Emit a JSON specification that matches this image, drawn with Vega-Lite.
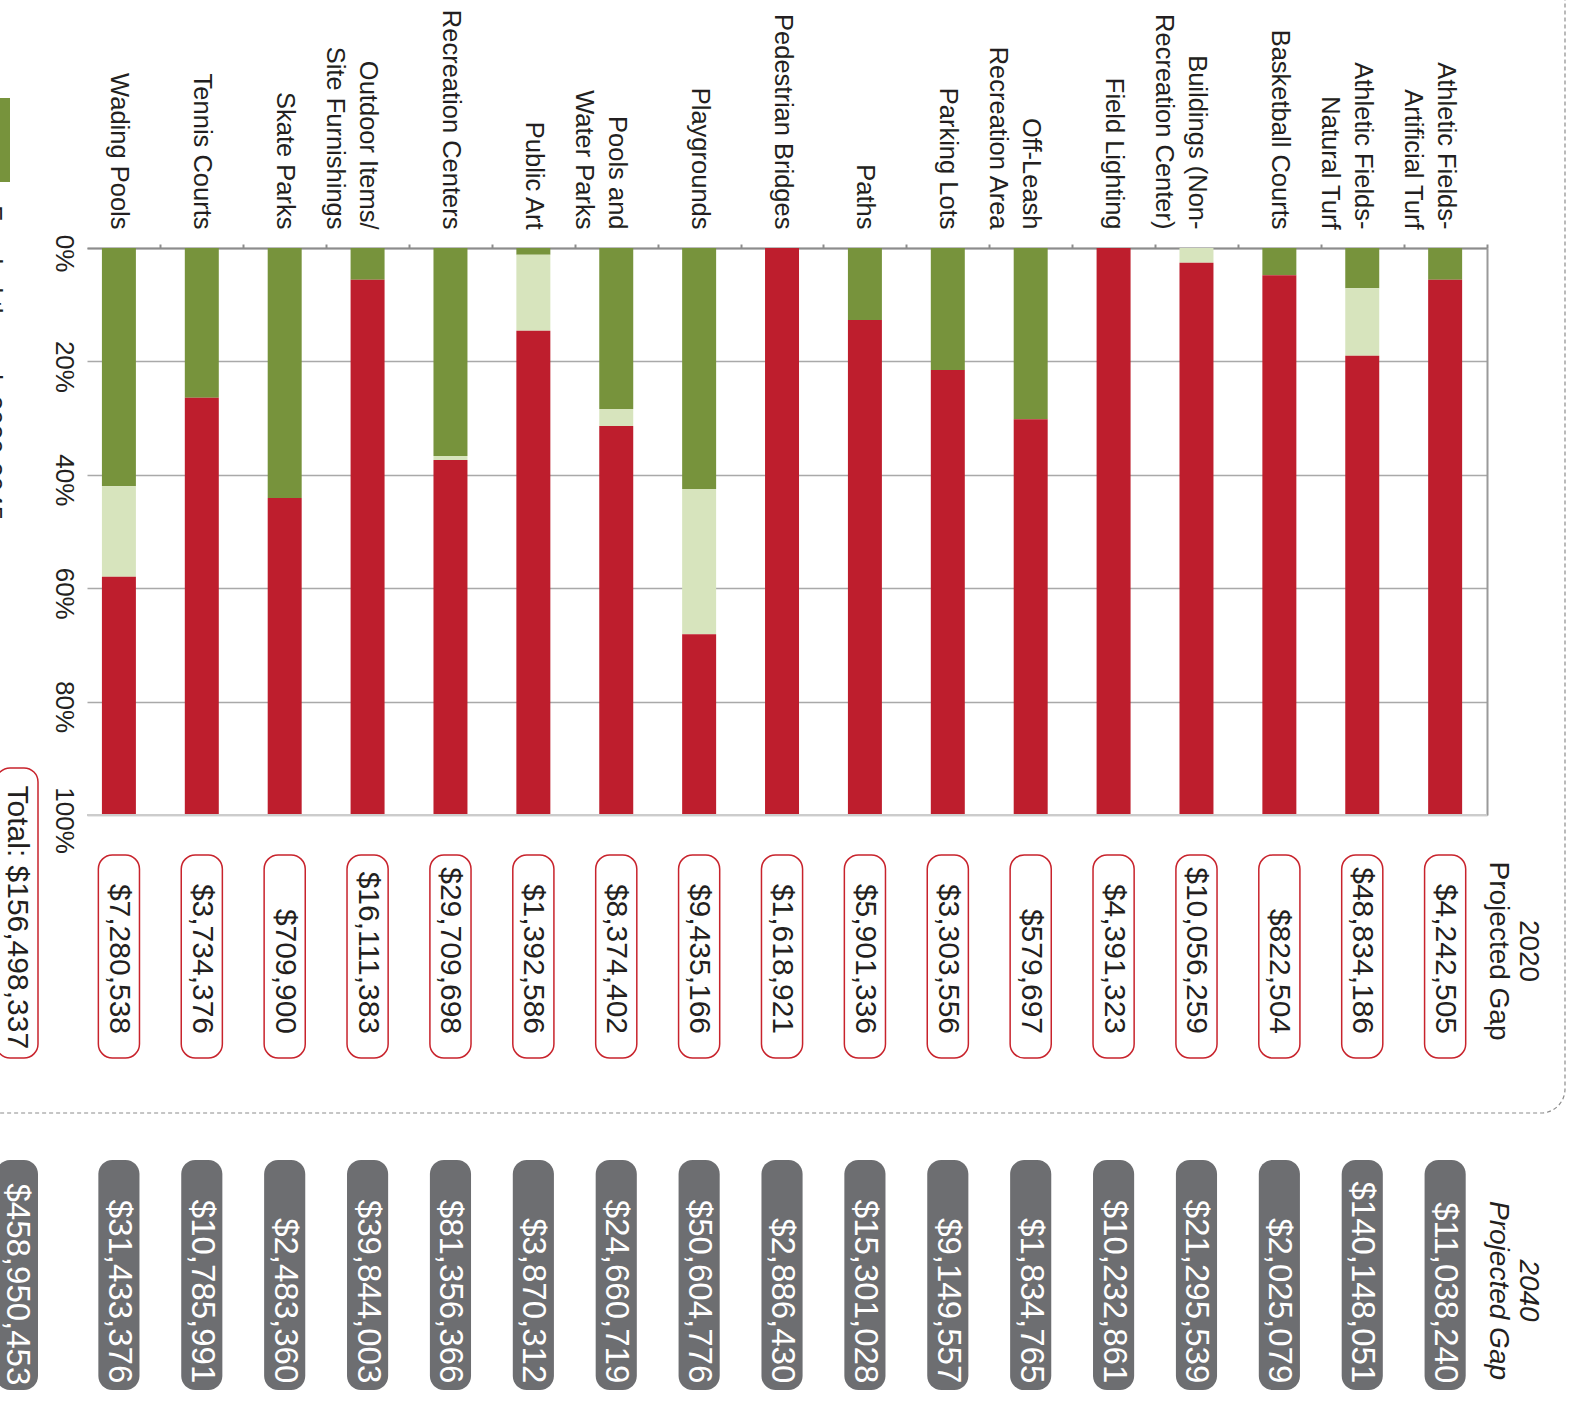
{
  "$schema": "https://vega.github.io/schema/vega-lite/v6.json",
  "width": 1400,
  "height": 567,
  "autosize": {"type": "none"},
  "padding": {"left": 87, "top": 248, "right": 83, "bottom": 591},
  "background": "white",
  "config": {"view": {"stroke": null}, "font": "Liberation Sans"},
  "datasets": {
    "shares": [
      {"cat": "Wading Pools", "status": "Funded", "pct": 42.0},
      {"cat": "Wading Pools", "status": "Partially funded", "pct": 16.0},
      {"cat": "Wading Pools", "status": "Unfunded", "pct": 42.0},
      {"cat": "Tennis Courts", "status": "Funded", "pct": 26.4},
      {"cat": "Tennis Courts", "status": "Unfunded", "pct": 73.6},
      {"cat": "Skate Parks", "status": "Funded", "pct": 44.1},
      {"cat": "Skate Parks", "status": "Unfunded", "pct": 55.9},
      {"cat": "Outdoor Items/|Site Furnishings", "status": "Funded", "pct": 5.6},
      {"cat": "Outdoor Items/|Site Furnishings", "status": "Unfunded", "pct": 94.4},
      {"cat": "Recreation Centers", "status": "Funded", "pct": 36.7},
      {"cat": "Recreation Centers", "status": "Partially funded", "pct": 0.7},
      {"cat": "Recreation Centers", "status": "Unfunded", "pct": 62.6},
      {"cat": "Public Art", "status": "Funded", "pct": 1.2},
      {"cat": "Public Art", "status": "Partially funded", "pct": 13.4},
      {"cat": "Public Art", "status": "Unfunded", "pct": 85.4},
      {"cat": "Pools and|Water Parks", "status": "Funded", "pct": 28.4},
      {"cat": "Pools and|Water Parks", "status": "Partially funded", "pct": 3.0},
      {"cat": "Pools and|Water Parks", "status": "Unfunded", "pct": 68.6},
      {"cat": "Playgrounds", "status": "Funded", "pct": 42.5},
      {"cat": "Playgrounds", "status": "Partially funded", "pct": 25.6},
      {"cat": "Playgrounds", "status": "Unfunded", "pct": 31.9},
      {"cat": "Pedestrian Bridges", "status": "Unfunded", "pct": 100},
      {"cat": "Paths", "status": "Funded", "pct": 12.7},
      {"cat": "Paths", "status": "Unfunded", "pct": 87.3},
      {"cat": "Parking Lots", "status": "Funded", "pct": 21.5},
      {"cat": "Parking Lots", "status": "Unfunded", "pct": 78.5},
      {"cat": "Off-Leash|Recreation Area", "status": "Funded", "pct": 30.2},
      {"cat": "Off-Leash|Recreation Area", "status": "Unfunded", "pct": 69.8},
      {"cat": "Field Lighting", "status": "Unfunded", "pct": 100},
      {"cat": "Buildings (Non-|Recreation Center)", "status": "Partially funded", "pct": 2.6},
      {"cat": "Buildings (Non-|Recreation Center)", "status": "Unfunded", "pct": 97.4},
      {"cat": "Basketball Courts", "status": "Funded", "pct": 4.8},
      {"cat": "Basketball Courts", "status": "Unfunded", "pct": 95.2},
      {"cat": "Athletic Fields-|Natural Turf", "status": "Funded", "pct": 7.1},
      {"cat": "Athletic Fields-|Natural Turf", "status": "Partially funded", "pct": 11.9},
      {"cat": "Athletic Fields-|Natural Turf", "status": "Unfunded", "pct": 81.0},
      {"cat": "Athletic Fields-|Artificial Turf", "status": "Funded", "pct": 5.6},
      {"cat": "Athletic Fields-|Artificial Turf", "status": "Unfunded", "pct": 94.4}
    ],
    "gaps": [
      {"cat": "Wading Pools", "g2020": 7280538, "g2040": 31433376},
      {"cat": "Tennis Courts", "g2020": 3734376, "g2040": 10785991},
      {"cat": "Skate Parks", "g2020": 709900, "g2040": 2483360},
      {"cat": "Outdoor Items/|Site Furnishings", "g2020": 16111383, "g2040": 39844003},
      {"cat": "Recreation Centers", "g2020": 29709698, "g2040": 81356366},
      {"cat": "Public Art", "g2020": 1392586, "g2040": 3870312},
      {"cat": "Pools and|Water Parks", "g2020": 8374402, "g2040": 24660719},
      {"cat": "Playgrounds", "g2020": 9435166, "g2040": 50604776},
      {"cat": "Pedestrian Bridges", "g2020": 1618921, "g2040": 2886430},
      {"cat": "Paths", "g2020": 5901336, "g2040": 15301028},
      {"cat": "Parking Lots", "g2020": 3303556, "g2040": 9149557},
      {"cat": "Off-Leash|Recreation Area", "g2020": 579697, "g2040": 1834765},
      {"cat": "Field Lighting", "g2020": 4391323, "g2040": 10232861},
      {"cat": "Buildings (Non-|Recreation Center)", "g2020": 10056259, "g2040": 21295539},
      {"cat": "Basketball Courts", "g2020": 822504, "g2040": 2025079},
      {"cat": "Athletic Fields-|Natural Turf", "g2020": 48834186, "g2040": 140148051},
      {"cat": "Athletic Fields-|Artificial Turf", "g2020": 4242505, "g2040": 11038240}
    ],
    "totals": [{"col": "Total", "g2020": 156498337, "g2040": 458950453}],
    "headers": [{"col": "Header", "h2020": "2020|Projected Gap", "h2040": "2040|Projected Gap"}],
    "legend": [{"label": "Funded through 2020-2045"}],
    "frame": [{"frame": "border"}]
  },
  "resolve": {"scale": {"x": "independent", "y": "independent"}},
  "layer": [
    {
      "data": {"name": "frame"},
      "mark": {"type": "rect", "fillOpacity": 0, "stroke": "#8c8c8c", "strokeWidth": 1.2, "strokeDash": [4, 3], "cornerRadius": 24},
      "encoding": {
        "x": {"datum": "start", "type": "nominal", "scale": {"type": "point", "domain": ["start", "end"], "range": [-200, 1478], "padding": 0}, "axis": null},
        "x2": {"datum": "end"},
        "y": {"datum": "start", "type": "nominal", "scale": {"type": "point", "domain": ["start", "end"], "range": [-400, 865], "padding": 0}, "axis": null},
        "y2": {"datum": "end"}
      }
    },
    {
      "data": {"name": "shares"},
      "layer": [
        {
          "mark": {"type": "bar"},
          "encoding": {
            "x": {
              "field": "cat", "type": "nominal",
              "scale": {
                "type": "band",
                "domain": ["Wading Pools", "Tennis Courts", "Skate Parks", "Outdoor Items/|Site Furnishings", "Recreation Centers", "Public Art", "Pools and|Water Parks", "Playgrounds", "Pedestrian Bridges", "Paths", "Parking Lots", "Off-Leash|Recreation Area", "Field Lighting", "Buildings (Non-|Recreation Center)", "Basketball Courts", "Athletic Fields-|Natural Turf", "Athletic Fields-|Artificial Turf"],
                "paddingInner": 0.59, "paddingOuter": 0.24, "align": 0.375
              },
              "axis": {
                "orient": "top", "title": null,
                "domainColor": "#8c8c8c", "domainWidth": 2,
                "tickColor": "#8c8c8c", "tickWidth": 2, "tickSize": 4,
                "tickOffset": 41.45, "labelOffset": -41.45,
                "labelAngle": 90, "labelAlign": "right", "labelBaseline": "middle",
                "labelPadding": 15, "labelFontSize": 25.5, "labelColor": "#231f20",
                "labelFont": "Liberation Sans", "labelLineHeight": 33, "labelLimit": 600,
                "labelOverlap": false,
                "labelExpr": "split(datum.label, '|')"
              }
            },
            "y": {
              "field": "pct", "type": "quantitative", "stack": "zero",
              "scale": {"domain": [0, 100], "reverse": true, "nice": false},
              "axis": {
                "orient": "left", "title": null, "values": [0, 20, 40, 60, 80, 100],
                "domain": false, "ticks": false,
                "grid": true, "gridColor": "#a9a9a9", "gridWidth": 1.5,
                "labelExpr": "datum.value + '%'",
                "labelAngle": 90, "labelAlign": "center", "labelBaseline": "top",
                "labelPadding": 11, "labelOffset": 5, "labelFontSize": 26,
                "labelColor": "#231f20", "labelFont": "Liberation Sans", "labelOverlap": false
              }
            },
            "color": {
              "field": "status", "type": "nominal",
              "scale": {"domain": ["Funded", "Partially funded", "Unfunded"], "range": ["#77933c", "#d7e4bd", "#be1e2d"]},
              "legend": null
            },
            "order": {"field": "status", "sort": "ascending"}
          }
        },
        {
          "mark": {"type": "rule", "color": "#cccccc", "strokeWidth": 2},
          "encoding": {
            "y": {
              "datum": 100, "type": "quantitative",
              "axis": {"orient": "right", "title": null, "domain": true, "domainColor": "#9a9a9a", "domainWidth": 2, "ticks": false, "labels": false, "grid": false}
            }
          }
        }
      ],
      "resolve": {"axis": {"y": "independent"}}
    },
    {
      "data": {"name": "gaps"},
      "layer": [
        {
          "mark": {"type": "rect", "fill": "white", "stroke": "#c8232c", "strokeWidth": 1.5, "cornerRadius": 14, "width": {"band": 1.21}},
          "encoding": {
            "x": {
              "field": "cat", "type": "nominal",
              "scale": {
                "type": "band",
                "domain": ["Wading Pools", "Tennis Courts", "Skate Parks", "Outdoor Items/|Site Furnishings", "Recreation Centers", "Public Art", "Pools and|Water Parks", "Playgrounds", "Pedestrian Bridges", "Paths", "Parking Lots", "Off-Leash|Recreation Area", "Field Lighting", "Buildings (Non-|Recreation Center)", "Basketball Courts", "Athletic Fields-|Natural Turf", "Athletic Fields-|Artificial Turf"],
                "paddingInner": 0.59, "paddingOuter": 0.24, "align": 0.375
              },
              "axis": null
            },
            "y": {"datum": "2020", "type": "nominal", "scale": {"type": "band", "domain": ["2020", "2040"], "range": [607, 1115], "paddingInner": 0.3344, "paddingOuter": 0}, "axis": null}
          }
        },
        {
          "mark": {"type": "text", "angle": 90, "align": "right", "baseline": "middle", "fontSize": 30, "color": "#231f20", "font": "Liberation Sans"},
          "encoding": {
            "x": {"field": "cat", "type": "nominal", "axis": null},
            "y": {"datum": "2020", "type": "nominal", "bandPosition": 0.882, "axis": null},
            "text": {"field": "g2020", "type": "quantitative", "format": "$,.0f"}
          }
        },
        {
          "mark": {"type": "rect", "fill": "#6d6e71", "cornerRadius": 14, "width": {"band": 1.21}},
          "encoding": {
            "x": {"field": "cat", "type": "nominal", "axis": null},
            "y": {"datum": "2040", "type": "nominal", "bandPosition": 0, "axis": null},
            "y2": {"datum": "2040", "bandPosition": 1.133}
          }
        },
        {
          "mark": {"type": "text", "angle": 90, "align": "right", "baseline": "middle", "fontSize": 33, "color": "white", "font": "Liberation Sans"},
          "encoding": {
            "x": {"field": "cat", "type": "nominal", "axis": null},
            "y": {"datum": "2040", "type": "nominal", "bandPosition": 1.1, "axis": null},
            "text": {"field": "g2040", "type": "quantitative", "format": "$,.0f"}
          }
        }
      ]
    },
    {
      "layer": [
        {
          "data": {"name": "totals"},
          "mark": {"type": "rect", "fill": "white", "stroke": "#c8232c", "strokeWidth": 1.5, "cornerRadius": 14, "width": 42},
          "encoding": {
            "x": {"field": "col", "type": "nominal", "scale": {"type": "point", "domain": ["Total", "Header"], "range": [-70, 1441], "padding": 0}, "axis": null},
            "y": {"datum": "2020", "type": "nominal", "bandPosition": -0.429, "scale": {"type": "band", "domain": ["2020", "2040"], "range": [607, 1115], "paddingInner": 0.3344, "paddingOuter": 0}, "axis": null},
            "y2": {"datum": "2020", "bandPosition": 1.0}
          }
        },
        {
          "data": {"name": "totals"},
          "transform": [{"calculate": "'Total: ' + format(datum.g2020, '$,.0f')", "as": "label2020"}],
          "mark": {"type": "text", "angle": 90, "align": "right", "baseline": "middle", "fontSize": 30, "color": "#231f20", "font": "Liberation Sans"},
          "encoding": {
            "x": {"field": "col", "type": "nominal", "axis": null},
            "y": {"datum": "2020", "type": "nominal", "bandPosition": 0.956, "axis": null},
            "text": {"field": "label2020", "type": "nominal"}
          }
        },
        {
          "data": {"name": "totals"},
          "mark": {"type": "rect", "fill": "#6d6e71", "cornerRadius": 14, "width": 42},
          "encoding": {
            "x": {"field": "col", "type": "nominal", "axis": null},
            "y": {"datum": "2040", "type": "nominal", "bandPosition": 0, "axis": null},
            "y2": {"datum": "2040", "bandPosition": 1.133}
          }
        },
        {
          "data": {"name": "totals"},
          "mark": {"type": "text", "angle": 90, "align": "right", "baseline": "middle", "fontSize": 33, "color": "white", "font": "Liberation Sans"},
          "encoding": {
            "x": {"field": "col", "type": "nominal", "axis": null},
            "y": {"datum": "2040", "type": "nominal", "bandPosition": 1.11, "axis": null},
            "text": {"field": "g2040", "type": "quantitative", "format": "$,.0f"}
          }
        },
        {
          "data": {"name": "headers"},
          "mark": {"type": "text", "angle": 90, "align": "center", "baseline": "middle", "fontSize": 28, "lineHeight": 30, "lineBreak": "|", "color": "#231f20", "font": "Liberation Sans"},
          "encoding": {
            "x": {"field": "col", "type": "nominal", "axis": null},
            "y": {"datum": "2020", "type": "nominal", "bandPosition": 0.473, "axis": null},
            "text": {"field": "h2020", "type": "nominal"}
          }
        },
        {
          "data": {"name": "headers"},
          "mark": {"type": "text", "angle": 90, "align": "center", "baseline": "middle", "fontSize": 28, "lineHeight": 30, "lineBreak": "|", "fontStyle": "italic", "color": "#231f20", "font": "Liberation Sans"},
          "encoding": {
            "x": {"field": "col", "type": "nominal", "axis": null},
            "y": {"datum": "2040", "type": "nominal", "bandPosition": 0.643, "axis": null},
            "text": {"field": "h2040", "type": "nominal"}
          }
        }
      ]
    },
    {
      "data": {"name": "legend"},
      "layer": [
        {
          "mark": {"type": "square", "size": 7056, "color": "#77933c", "filled": true, "opacity": 1},
          "encoding": {
            "x": {"datum": "swatch", "type": "nominal", "scale": {"type": "point", "domain": ["swatch", "label"], "range": [-119, -103], "padding": 0}, "axis": null},
            "y": {"datum": "swatch", "type": "nominal", "scale": {"type": "point", "domain": ["swatch", "label"], "range": [-108, -43], "padding": 0}, "axis": null}
          }
        },
        {
          "mark": {"type": "text", "angle": 90, "align": "left", "baseline": "alphabetic", "fontSize": 26, "color": "#231f20", "font": "Liberation Sans"},
          "encoding": {
            "x": {"datum": "label", "type": "nominal", "axis": null},
            "y": {"datum": "label", "type": "nominal", "axis": null},
            "text": {"field": "label", "type": "nominal"}
          }
        }
      ]
    }
  ]
}
